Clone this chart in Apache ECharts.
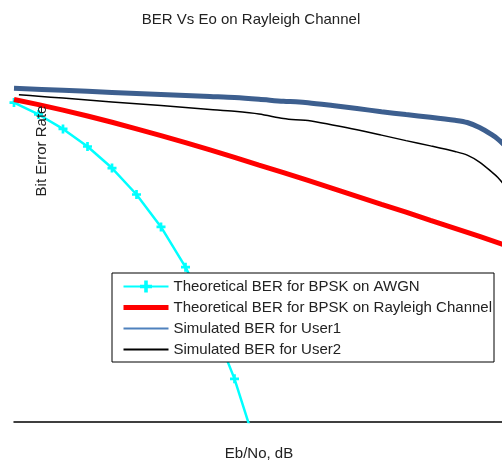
<!DOCTYPE html>
<html>
<head>
<meta charset="utf-8">
<script src="https://cdn.jsdelivr.net/npm/echarts@6/dist/echarts.min.js"></script>
<style>
  html, body { margin: 0; padding: 0; background: #fff; }
  #ber-chart { width: 502px; height: 462px; }
</style>
</head>
<body>
<div id="ber-chart"></div>
<script>
// Eb/No (dB) and BER values
let awgnX = [0, 1, 2, 3, 4, 5, 6, 7, 8, 9, 10];
let awgnBer = [0.0786, 0.0563, 0.0375, 0.0229, 0.0125, 0.00595, 0.00239, 0.000773, 0.000191, 0.0000336, 0.00000387];

let rayX = [0, 1, 2, 3, 4, 5, 6, 7, 8, 9, 10, 11, 12, 13, 14, 15, 16, 17, 18, 19, 20];
let rayBer = [0.0858, 0.0742, 0.0636, 0.0539, 0.0452, 0.0376, 0.0311, 0.0255, 0.0208, 0.0169, 0.0136,
  0.0110, 0.00883, 0.00708, 0.00566, 0.00452, 0.00362, 0.00288, 0.00230, 0.00183, 0.00145];

let user1X = [0, 2, 4, 6, 8, 9, 10, 11, 11.5, 12, 13, 14, 15, 16, 17, 18, 18.5, 19, 19.5, 19.75, 20];
let user1Ber = [0.1174, 0.1109, 0.1046, 0.0987, 0.0932, 0.0906, 0.0864, 0.0815, 0.0804, 0.0784, 0.0724,
  0.0665, 0.0608, 0.0561, 0.0521, 0.0478, 0.0449, 0.0390, 0.0319, 0.0282, 0.0241];

let user2X = [0.2, 1, 2, 4, 6, 8, 9, 10, 11, 11.5, 12, 13, 14, 15, 16, 17, 18, 18.5, 19, 19.5, 19.75, 20];
let user2Ber = [0.0981, 0.0940, 0.0891, 0.0801, 0.0722, 0.0649, 0.0615, 0.0570, 0.0502, 0.0484, 0.0475,
  0.0419, 0.0366, 0.0315, 0.0270, 0.0233, 0.0199, 0.0180, 0.0148, 0.0112, 0.0096, 0.0078];

let names = [
  'Theoretical BER for BPSK on AWGN',
  'Theoretical BER for BPSK on Rayleigh Channel',
  'Simulated BER for User1',
  'Simulated BER for User2'
];

function pairs(xs, ys) {
  return xs.map(function (x, i) { return [x, ys[i]]; });
}

let font = '"Liberation Sans", Arial, sans-serif';
let plus = 'path://M3.5,0h3v3.5h3.5v3h-3.5v3.5h-3v-3.5h-3.5v-3h3.5z';

let myChart = echarts.init(document.getElementById('ber-chart'));

myChart.setOption({
  animation: false,
  title: {
    text: 'BER Vs Eo on Rayleigh Channel',
    left: 'center',
    top: 7,
    textStyle: { fontFamily: font, fontSize: 15, fontWeight: 'normal', color: '#222' }
  },
  grid: {
    left: 14,
    right: -2,
    top: 12,
    bottom: 40,
    outerBoundsMode: 'none'
  },
  legend: {
    orient: 'vertical',
    left: 112,
    top: 273,
    padding: [6, 2, 5, 9],
    itemGap: 6,
    itemWidth: 45,
    itemHeight: 15,
    borderColor: '#000',
    borderWidth: 1,
    backgroundColor: '#fff',
    textStyle: { fontFamily: font, fontSize: 15, color: '#222' },
    data: [
      { name: names[0] },
      { name: names[1], itemStyle: { opacity: 0 }, lineStyle: { color: '#ff0000', width: 5 } },
      { name: names[2], itemStyle: { opacity: 0 }, lineStyle: { color: '#4f81bd', width: 2 } },
      { name: names[3], itemStyle: { opacity: 0 }, lineStyle: { color: '#000', width: 2 } }
    ]
  },
  xAxis: {
    type: 'value',
    min: 0,
    max: 20,
    name: 'Eb/No, dB',
    nameLocation: 'middle',
    nameGap: 24,
    nameTextStyle: { fontFamily: font, fontSize: 15, color: '#222' },
    axisLine: { show: true, onZero: false, lineStyle: { color: '#000', width: 1.5 } },
    axisTick: { show: false },
    axisLabel: { show: false },
    splitLine: { show: false }
  },
  yAxis: {
    type: 'log',
    logBase: 10,
    min: 0.00001,
    max: 1,
    axisLine: { show: false },
    axisTick: { show: false },
    axisLabel: { show: false },
    splitLine: { show: false }
  },
  graphic: [{
    type: 'text',
    x: 42,
    y: 151,
    rotation: Math.PI / 2,
    z: 10,
    style: {
      text: 'Bit Error Rate',
      fontFamily: font,
      fontSize: 15,
      fill: '#222',
      textAlign: 'center',
      textVerticalAlign: 'middle'
    }
  }],
  series: [
    {
      name: names[0],
      type: 'line',
      data: pairs(awgnX, awgnBer),
      symbol: plus,
      symbolSize: 9,
      itemStyle: { color: '#00ffff', borderWidth: 0 },
      lineStyle: { color: '#00ffff', width: 2.5 },
      clip: true,
      z: 2
    },
    {
      name: names[1],
      type: 'line',
      data: pairs(rayX, rayBer),
      showSymbol: false,
      symbol: 'none',
      itemStyle: { color: '#ff0000' },
      lineStyle: { color: '#ff0000', width: 5 },
      z: 3
    },
    {
      name: names[2],
      type: 'line',
      data: pairs(user1X, user1Ber),
      showSymbol: false,
      symbol: 'none',
      smooth: 0.3,
      itemStyle: { color: '#3d5f8f' },
      lineStyle: { color: '#3d5f8f', width: 5 },
      z: 4
    },
    {
      name: names[3],
      type: 'line',
      data: pairs(user2X, user2Ber),
      showSymbol: false,
      symbol: 'none',
      smooth: 0.3,
      itemStyle: { color: '#000' },
      lineStyle: { color: '#000', width: 1.5 },
      z: 5
    }
  ]
});
</script>
</body>
</html>
